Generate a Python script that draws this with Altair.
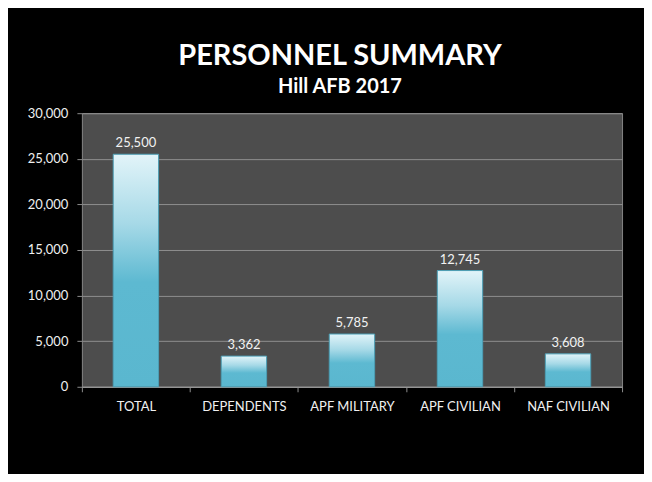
import altair as alt
import pandas as pd

categories = ["TOTAL", "DEPENDENTS", "APF MILITARY", "APF CIVILIAN", "NAF CIVILIAN"]
values = [25500, 3362, 5785, 12745, 3608]
y_ticks = [0, 5000, 10000, 15000, 20000, 25000, 30000]

df = pd.DataFrame({"category": categories, "value": values})

grad = alt.LinearGradient(
    gradient="linear", x1=0, y1=0, x2=0, y2=1,
    stops=[
        alt.GradientStop(color="#e2f4f9", offset=0),
        alt.GradientStop(color="#a6d9e7", offset=0.3),
        alt.GradientStop(color="#5db9d1", offset=0.55),
        alt.GradientStop(color="#5ab7cf", offset=1),
    ],
)

x_enc = alt.X(
    "category:N", sort=categories,
    scale=alt.Scale(paddingInner=0, paddingOuter=0),
    axis=alt.Axis(
        title=None, labelAngle=0, tickBand="extent", tickSize=5,
        tickColor="#8c8c8c", domainColor="#9a9a9a", labelPadding=9,
        labelFont="Lato", labelFontSize=13, labelColor="#f0f0f0", grid=False,
    ),
)
y_enc = alt.Y(
    "value:Q",
    scale=alt.Scale(domain=[0, 30000], nice=False),
    axis=alt.Axis(
        title=None, values=y_ticks, format=",.0f", tickSize=5, tickColor="#8c8c8c",
        domain=False, labelPadding=9, labelFont="Lato", labelFontSize=13,
        labelColor="#f0f0f0", grid=True, gridColor="#8e8e8e", gridWidth=1,
    ),
)

base = alt.Chart(df)
bars = base.mark_bar(
    width=alt.RelativeBandSize(0.42), color=grad, stroke="#4b9fb5", strokeWidth=1
).encode(x=x_enc, y=y_enc)

labels = base.mark_text(
    dy=-7, baseline="alphabetic", color="#f2f2f2", font="Lato", fontSize=13
).encode(x=alt.X("category:N", sort=categories), y="value:Q",
         text=alt.Text("value:Q", format=",.0f"))

chart = (
    alt.layer(bars, labels)
    .properties(
        width=541, height=274,
        title=alt.TitleParams(
            text="PERSONNEL SUMMARY", subtitle="Hill AFB 2017",
            font="Lato", fontSize=29, fontWeight="bold", color="white",
            subtitleFont="Lato", subtitleFontSize=20, subtitleFontWeight="bold",
            subtitleColor="white", anchor="middle", dx=-12, offset=10,
            subtitlePadding=6,
        ),
        autosize=alt.AutoSizeParams(type="none"),
        padding={"left": 74, "top": 105, "right": 22, "bottom": 87},
        background="black",
    )
    .configure_view(fill="#4d4d4d", stroke="#858585", strokeWidth=1)
)

chart.save("out.html", embed_options={"renderer": "svg", "actions": False})
